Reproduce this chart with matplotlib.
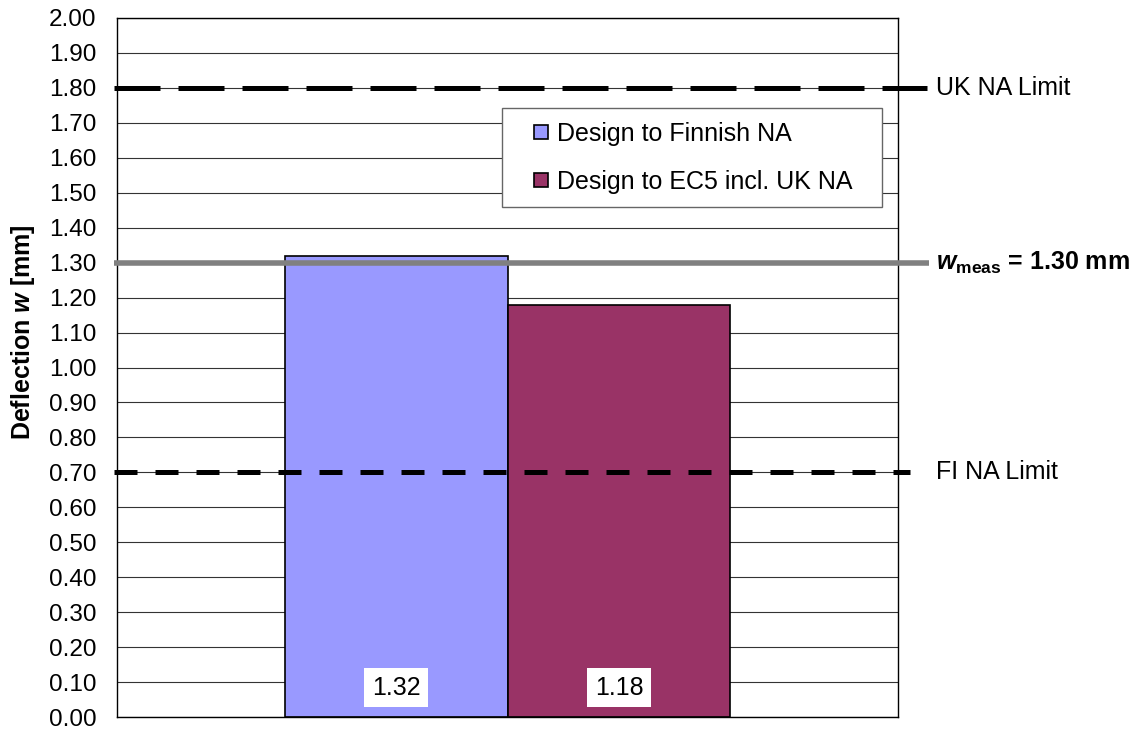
import matplotlib
matplotlib.use('Agg')
import matplotlib.pyplot as plt
from matplotlib.lines import Line2D

plt.rcParams['font.family'] = ['Liberation Sans', 'DejaVu Sans']
plt.rcParams['mathtext.fontset'] = 'custom'
plt.rcParams['mathtext.rm'] = 'Liberation Sans:bold'
plt.rcParams['mathtext.bf'] = 'Liberation Sans:bold'
plt.rcParams['mathtext.it'] = 'Liberation Sans:bold:italic'

# data
series_names = ['Design to Finnish NA', 'Design to EC5 incl. UK NA']
deflection = [1.32, 1.18]
bar_colors = ['#9999FF', '#993366']
uk_limit = 1.80
fi_limit = 0.70
w_meas = 1.30
yticks = [i / 10 for i in range(21)]

fig = plt.figure(figsize=(11.42, 7.29), dpi=100)
ax = fig.add_axes([117 / 1142, 12 / 729, 781 / 1142, 699 / 729])

width = 0.2855
offsets = [-width / 2, width / 2]
for off, val, col in zip(offsets, deflection, bar_colors):
    ax.bar(off, val, width=width, color=col, edgecolor='black',
           linewidth=1.2, zorder=2)
    ax.annotate('%.2f' % val, (off, 0), xytext=(0, 21),
                textcoords='offset points', ha='center', va='center',
                fontsize=18, zorder=5,
                bbox=dict(boxstyle='square,pad=0.3', fc='white', ec='none'))

ax.set_xlim(-0.5, 0.5)
ax.set_ylim(0, 2.0)
ax.set_yticks(yticks)
ax.set_yticklabels(['%.2f' % t for t in yticks], fontsize=17.5)
ax.tick_params(axis='y', length=0, pad=15)
ax.set_xticks([])
ax.grid(axis='y', color='#333333', linewidth=0.8, zorder=0)
ax.set_axisbelow(True)
for sp in ax.spines.values():
    sp.set_color('black')
    sp.set_linewidth(1.0)

# reference lines, running a little past the plot frame
tr = ax.get_yaxis_transform()
ax.plot([-0.004, 1.037], [uk_limit, uk_limit], transform=tr, color='black',
        linewidth=3.6, linestyle=(0, (9.2, 3.6)), clip_on=False, zorder=4)
ax.plot([-0.004, 1.016], [fi_limit, fi_limit], transform=tr, color='black',
        linewidth=3.6, linestyle=(0, (4.6, 3.6)), clip_on=False, zorder=4)
ax.plot([-0.004, 1.040], [w_meas, w_meas], transform=tr, color='#808080',
        linewidth=4.0, solid_capstyle='butt', clip_on=False, zorder=4)

ax.text(1.049, uk_limit, 'UK NA Limit', transform=tr, fontsize=18,
        va='center', ha='left')
ax.text(1.049, fi_limit, 'FI NA Limit', transform=tr, fontsize=18,
        va='center', ha='left')
ax.text(1.049, w_meas, r'$\mathit{w}_{\mathrm{meas}}$ = 1.30 mm', transform=tr,
        fontsize=18, fontweight='bold', va='center', ha='left')

fig.text(23 / 1142, (729 - 332) / 729, r'Deflection $\mathit{w}$ [mm]',
         rotation=90, fontsize=18, fontweight='bold', ha='center', va='center')

handles = [Line2D([], [], linestyle='none', marker='s', markersize=10.5,
                  markerfacecolor=c, markeredgecolor='black',
                  markeredgewidth=1.2) for c in bar_colors]
leg = ax.legend(handles, series_names, loc='upper left',
                bbox_to_anchor=(0.493, 0.871, 0.4865, 0), mode='expand',
                borderaxespad=0, fontsize=18, borderpad=0.55,
                labelspacing=0.95, handlelength=2.04, handletextpad=-0.4,
                fancybox=False, framealpha=1, edgecolor='#666666')
leg.get_frame().set_linewidth(1.0)
leg.set_zorder(6)

fig.savefig('out.png', dpi=100)
